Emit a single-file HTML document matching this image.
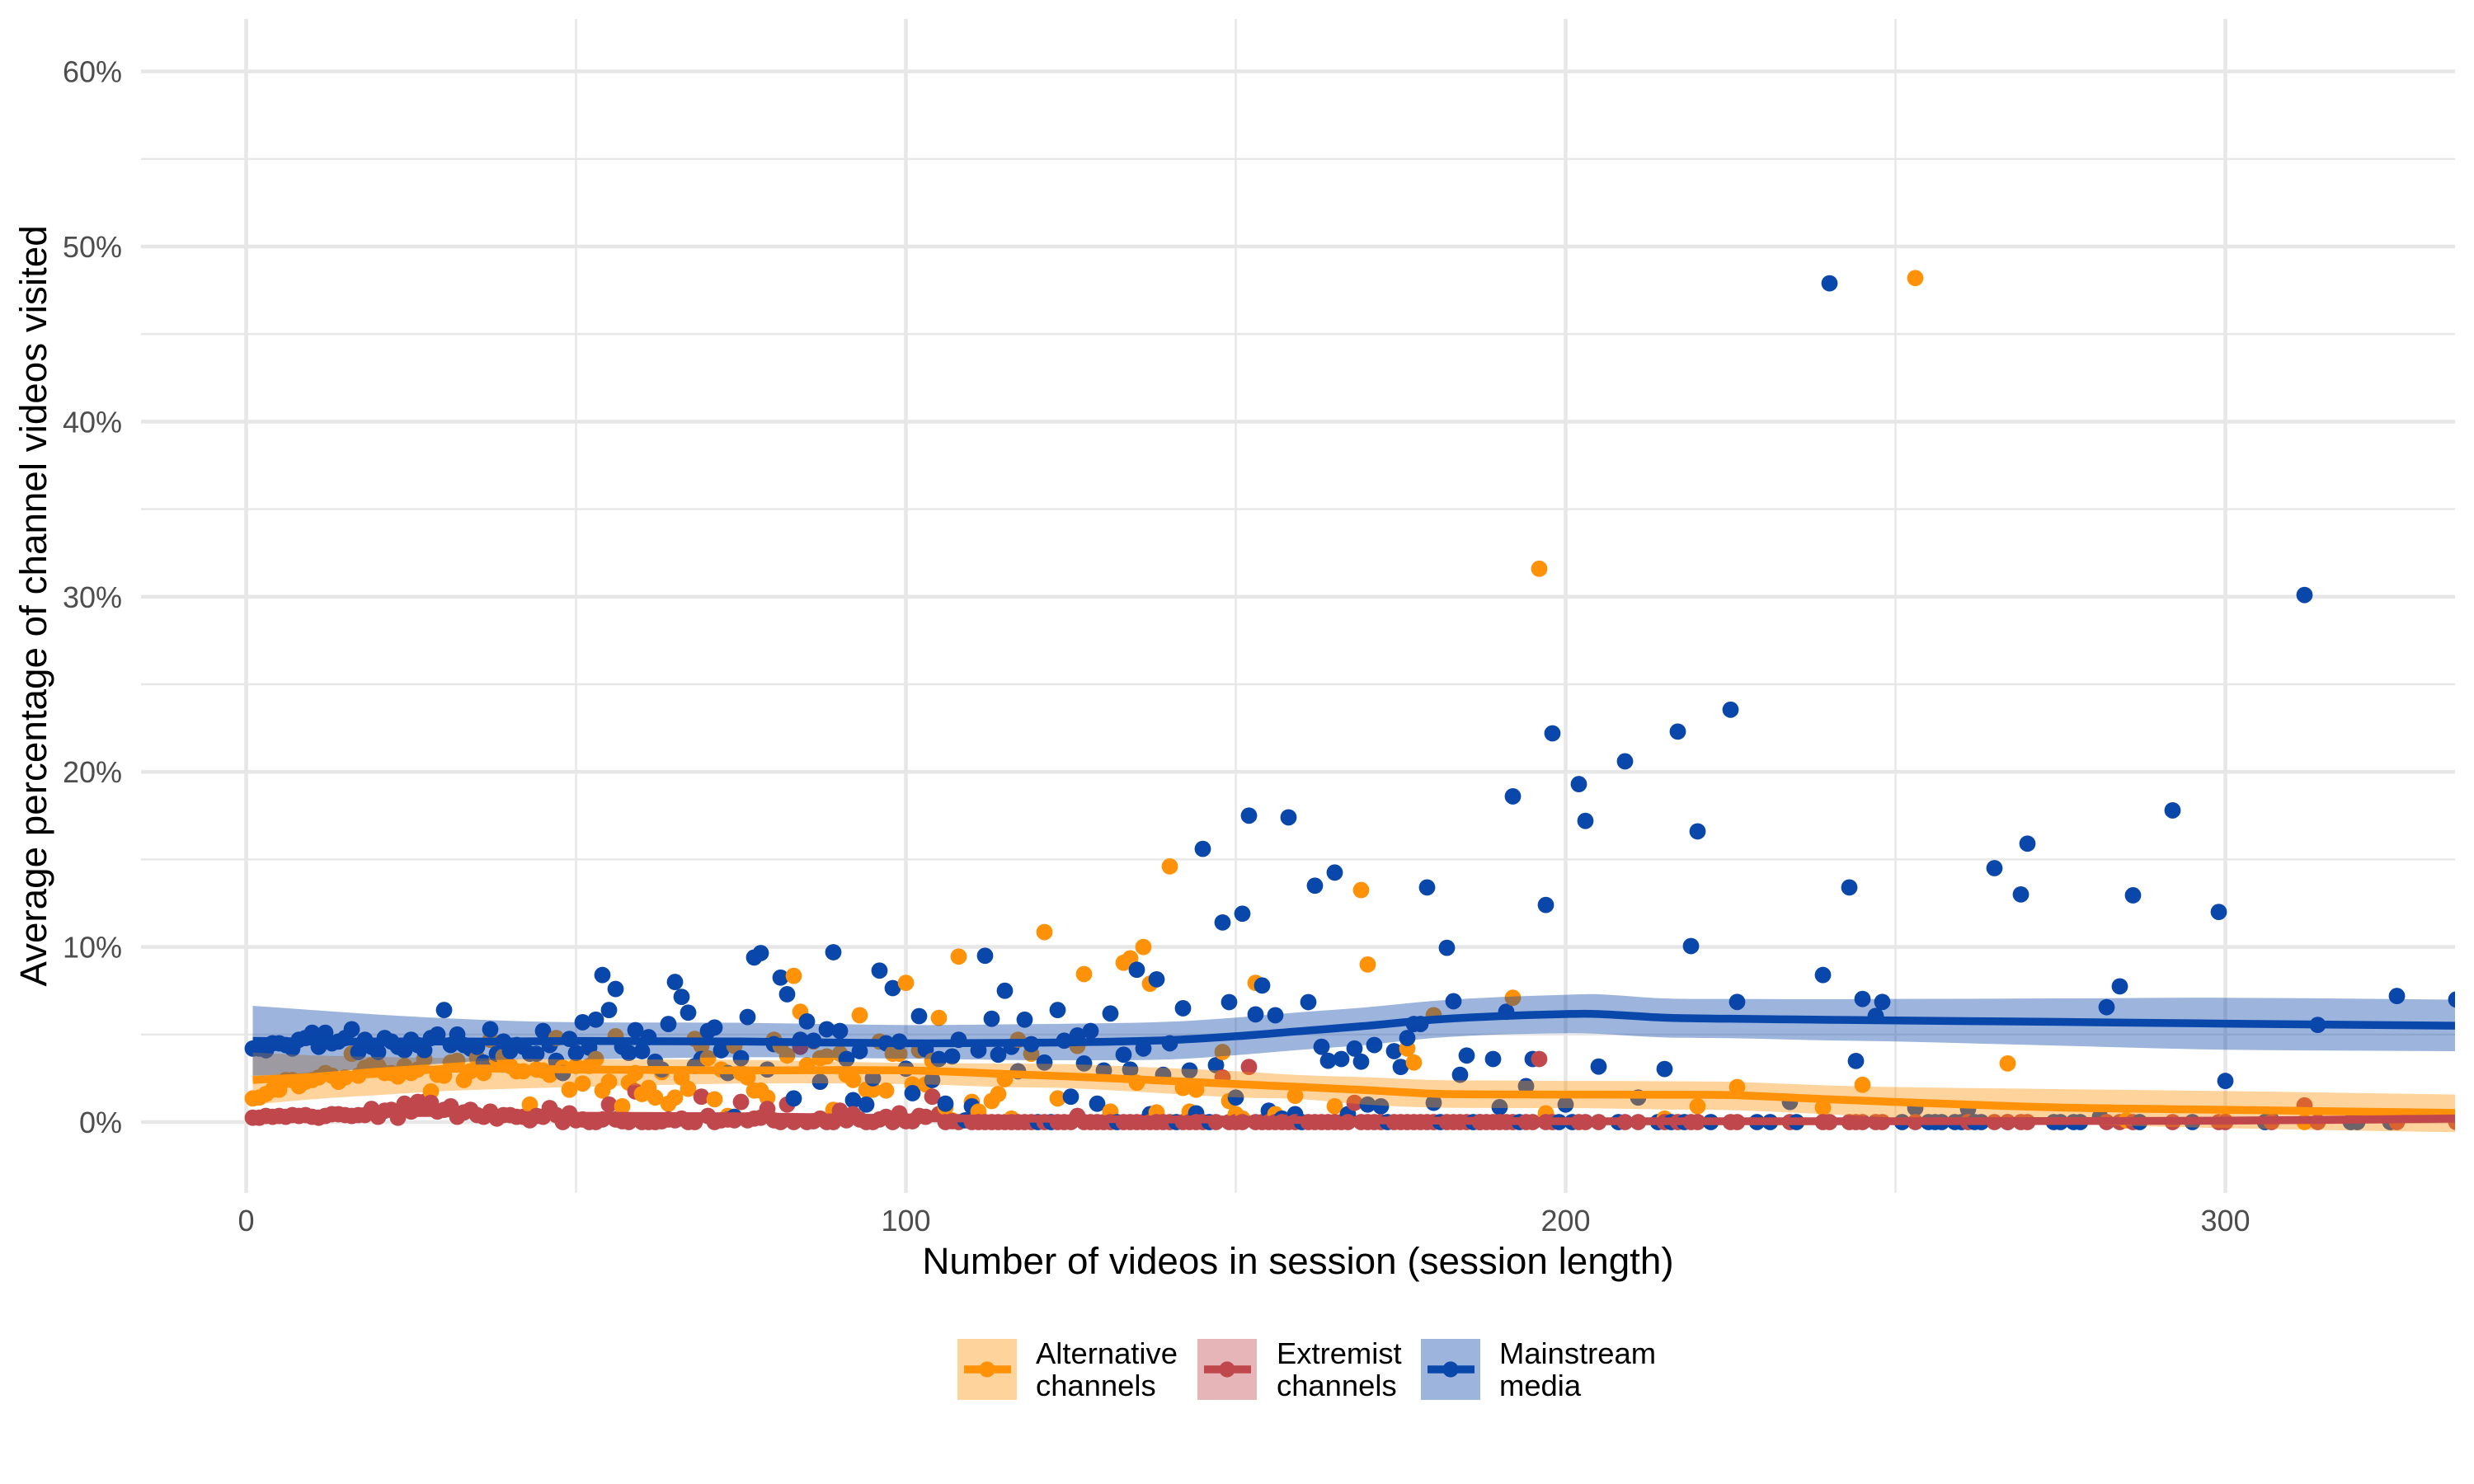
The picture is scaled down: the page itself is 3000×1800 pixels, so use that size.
<!DOCTYPE html>
<html lang="en">
<head>
<meta charset="utf-8">
<title>Average percentage of channel videos visited by session length</title>
<style>
html,body{margin:0;padding:0;background:#fff;}
svg{display:block;font-family:"Liberation Sans",Arial,sans-serif;}
</style>
</head>
<body>
<svg id="chart" xmlns="http://www.w3.org/2000/svg" width="3000" height="1800" viewBox="0 0 3000 1800">
<rect x="0" y="0" width="3000" height="1800" fill="#ffffff"/>
<defs><clipPath id="panel-clip"><rect x="171" y="23" width="2806" height="1424"/></clipPath></defs>
<g id="grid"></g>
<g id="panel" clip-path="url(#panel-clip)">
<g id="points"></g>
<g id="smooths"></g>
</g>
<g id="ticks" font-size="36" fill="#4d4d4d"></g>
<text x="1574" y="1545" font-size="45.8" text-anchor="middle" fill="#000">Number of videos in session (session length)</text>
<text transform="translate(56,735) rotate(-90)" font-size="45.8" text-anchor="middle" fill="#000">Average percentage of channel videos visited</text>
<g font-size="36.4" fill="#000">
<g>
<rect x="1161" y="1624" width="72" height="74" fill="#ff9208" fill-opacity="0.4"/>
<line x1="1169" x2="1226" y1="1661" y2="1661" stroke="#ff9208" stroke-width="9.5"/>
<circle cx="1197" cy="1661" r="9.6" fill="#ff9208"/>
<text x="1256" y="1654">Alternative</text>
<text x="1256" y="1693">channels</text>
</g>
<g>
<rect x="1452" y="1624" width="72" height="74" fill="#c0474b" fill-opacity="0.4"/>
<line x1="1460" x2="1517" y1="1661" y2="1661" stroke="#c0474b" stroke-width="9.5"/>
<circle cx="1488" cy="1661" r="9.6" fill="#c0474b"/>
<text x="1548" y="1654">Extremist</text>
<text x="1548" y="1693">channels</text>
</g>
<g>
<rect x="1723" y="1624" width="72" height="74" fill="#0a47ab" fill-opacity="0.4"/>
<line x1="1731" x2="1788" y1="1661" y2="1661" stroke="#0a47ab" stroke-width="9.5"/>
<circle cx="1759" cy="1661" r="9.6" fill="#0a47ab"/>
<text x="1818" y="1654">Mainstream</text>
<text x="1818" y="1693">media</text>
</g>
</g>
</svg>
<script>
const xMajorTicks = [0, 100, 200, 300];
const xMinorTicks = [50, 150, 250];
const yMajorTicks = [0, 10, 20, 30, 40, 50, 60];
const yMinorTicks = [5, 15, 25, 35, 45, 55];

const alternativePoints = [[1,1.35],[2,1.4],[3,1.6],[4,1.85],[5,1.85],[6,2.4],[7,2.4],[8,2.05],[9,2.3],[10,2.4],[11,2.55],[12,2.8],[13,2.65],[14,2.3],[15,2.55],[16,3.9],[17,2.65],[18,3.1],[19,3.25],[20,3.2],[21,2.8],[22,2.8],[23,2.6],[24,3.2],[25,2.8],[26,3.0],[27,3.6],[28,1.75],[29,2.7],[30,2.65],[31,3.4],[32,3.5],[33,2.4],[34,2.9],[35,3.65],[36,2.8],[37,4.7],[38,3.6],[39,3.75],[40,3.2],[41,2.9],[42,2.9],[43,1.0],[44,3.0],[45,2.95],[46,2.7],[47,4.8],[48,3.1],[49,1.85],[50,3.2],[51,2.2],[52,3.2],[53,3.6],[54,1.8],[55,2.3],[56,4.9],[57,0.9],[58,2.25],[59,2.8],[60,1.6],[61,1.95],[62,1.4],[63,2.85],[64,1.05],[65,1.4],[66,2.55],[67,1.9],[68,4.75],[69,4.35],[70,3.65],[71,1.3],[72,3.0],[73,0.35],[74,4.35],[75,2.8],[76,2.55],[77,1.8],[78,1.8],[79,1.4],[80,4.7],[81,4.35],[82,3.8],[83,8.35],[84,6.3],[85,3.25],[86,4.6],[87,3.65],[88,3.75],[89,0.7],[90,3.9],[91,2.7],[92,2.4],[93,6.1],[94,1.85],[95,1.85],[96,4.6],[97,1.8],[98,3.9],[99,3.9],[100,7.95],[101,2.15],[102,4.1],[103,2.15],[104,3.5],[105,5.95],[106,0.85],[107,0.1],[108,9.45],[110,1.15],[111,0.6],[113,1.2],[114,1.6],[115,2.45],[116,0.2],[117,4.7],[119,3.9],[121,10.85],[123,1.35],[126,4.35],[127,8.45],[131,0.6],[133,9.1],[134,9.35],[135,2.25],[136,10.0],[137,7.9],[138,0.55],[140,14.6],[142,1.95],[143,0.6],[144,1.85],[148,4.0],[149,1.2],[150,0.45],[151,0.2],[153,7.95],[156,0.45],[159,1.5],[165,0.9],[167,0.05],[169,13.25],[170,9.0],[176,4.2],[177,3.4],[180,6.1],[192,7.1],[196,31.6],[197,0.5],[215,0.2],[220,0.9],[226,2.0],[239,0.83],[245,2.13],[253,48.2],[267,3.35],[285,0.1],[300,0.05],[312,0]];

const mainstreamPoints = [[1,4.2],[2,4.2],[3,4.1],[4,4.5],[5,4.5],[6,4.4],[7,4.2],[8,4.7],[9,4.8],[10,5.1],[11,4.3],[12,5.1],[13,4.5],[14,4.6],[15,4.8],[16,5.3],[17,4.0],[18,4.7],[19,4.3],[20,4.0],[21,4.8],[22,4.6],[23,4.3],[24,4.1],[25,4.7],[26,4.4],[27,4.1],[28,4.8],[29,5.0],[30,6.4],[31,4.4],[32,5.0],[33,4.4],[34,4.2],[35,4.3],[36,3.4],[37,5.3],[38,3.9],[39,4.6],[40,4.05],[41,4.4],[42,4.3],[43,3.9],[44,3.9],[45,5.2],[46,4.4],[47,3.5],[48,2.8],[49,4.75],[50,3.95],[51,5.7],[52,4.25],[53,5.85],[54,8.4],[55,6.4],[56,7.6],[57,4.3],[58,3.95],[59,5.25],[60,4.05],[61,4.85],[62,3.45],[63,3.0],[64,5.6],[65,8.0],[66,7.15],[67,6.25],[68,3.2],[69,3.6],[70,5.2],[71,5.4],[72,4.1],[73,2.8],[74,0.3],[75,3.65],[76,6.0],[77,9.4],[78,9.65],[79,3.0],[80,4.45],[81,8.25],[82,7.3],[83,1.35],[84,4.7],[85,5.75],[86,4.65],[87,2.3],[88,5.3],[89,9.7],[90,5.2],[91,3.6],[92,1.25],[93,4.05],[94,1.0],[95,2.5],[96,8.65],[97,4.5],[98,7.65],[99,4.6],[100,3.05],[101,1.65],[102,6.05],[103,4.15],[104,2.4],[105,3.6],[106,1.05],[107,3.75],[108,4.7],[109,0.1],[110,0.9],[111,4.1],[112,9.5],[113,5.9],[114,3.85],[115,7.5],[116,4.3],[117,2.9],[118,5.85],[119,4.45],[120,0],[121,3.4],[122,0],[123,6.4],[124,4.65],[125,1.45],[126,4.95],[127,3.35],[128,5.2],[129,1.05],[130,2.95],[131,6.2],[132,0],[133,3.85],[134,3.0],[135,8.7],[136,4.2],[137,0.45],[138,8.15],[139,2.7],[140,4.5],[141,0],[142,6.5],[143,2.95],[144,0.5],[145,15.6],[146,0],[147,3.25],[148,11.4],[149,6.85],[150,1.4],[151,11.9],[152,17.5],[153,6.15],[154,7.8],[155,0.65],[156,6.1],[157,0.2],[158,17.4],[159,0.45],[160,0],[161,6.85],[162,13.5],[163,4.3],[164,3.5],[165,14.25],[166,3.6],[167,0.45],[168,4.2],[169,3.45],[170,1.0],[171,4.4],[172,0.9],[173,0],[174,4.05],[175,3.15],[176,4.8],[177,5.6],[178,5.6],[179,13.4],[180,1.1],[181,0],[182,9.95],[183,6.9],[184,2.7],[185,3.8],[186,0],[187,0],[189,3.6],[190,0.85],[191,6.3],[192,18.6],[193,0],[194,2.05],[195,3.6],[197,12.4],[198,22.2],[199,0],[200,1.0],[201,0],[202,19.3],[203,17.2],[205,3.17],[208,0],[209,20.6],[211,1.4],[214,0],[215,3.03],[216,0],[217,22.3],[218,0],[219,10.05],[220,16.6],[222,0],[225,23.55],[226,6.86],[229,0],[231,0],[234,1.15],[235,0],[239,8.4],[240,47.9],[243,13.4],[244,3.49],[245,7.03],[247,6.06],[248,6.86],[251,0],[253,0.8],[255,0],[256,0],[257,0],[259,0],[260,0],[261,0.75],[262,0],[263,0],[265,14.5],[267,0],[269,13.0],[270,15.9],[274,0],[275,0],[277,0],[278,0],[281,0.3],[282,6.56],[284,7.75],[286,12.95],[287,0],[292,17.8],[295,0],[299,12.0],[300,2.35],[306,0],[307,0.1],[312,30.1],[314,5.55],[319,0],[320,0],[325,0],[326,7.2],[335,7.0]];

const extremistPoints = [[1,0.25],[2,0.25],[3,0.35],[4,0.3],[5,0.35],[6,0.3],[7,0.4],[8,0.35],[9,0.4],[10,0.3],[11,0.25],[12,0.35],[13,0.45],[14,0.45],[15,0.4],[16,0.35],[17,0.4],[18,0.4],[19,0.75],[20,0.3],[21,0.65],[22,0.7],[23,0.25],[24,1.05],[25,0.6],[26,1.15],[27,1.15],[28,1.1],[29,0.6],[30,0.7],[31,0.9],[32,0.3],[33,0.55],[34,0.7],[35,0.4],[36,0.3],[37,0.6],[38,0.2],[39,0.4],[40,0.4],[41,0.3],[42,0.3],[43,0.1],[44,0.35],[45,0.3],[46,0.8],[47,0.4],[48,0],[49,0.5],[50,0.1],[51,0.15],[52,0],[53,0],[54,0.15],[55,1.0],[56,0.15],[57,0.05],[58,0],[59,1.75],[60,0],[61,0],[62,0],[63,0.05],[64,0.15],[65,0.1],[66,0.2],[67,0],[68,0],[69,1.45],[70,0.35],[71,0],[72,0.1],[73,0.15],[74,0.1],[75,1.15],[76,0.1],[77,0.2],[78,0.25],[79,0.75],[80,0.1],[81,0],[82,1.0],[83,0],[84,4.3],[85,0],[86,0.05],[87,0.2],[88,0],[89,0],[90,0.65],[91,0.1],[92,0.45],[93,0.15],[94,0],[95,0],[96,0.15],[97,0.3],[98,0],[99,0.5],[100,0.05],[101,0.05],[102,0.35],[103,0.3],[104,1.45],[105,0.45],[106,0],[107,0.05],[108,0],[110,0],[111,0],[112,0],[113,0],[114,0],[115,0],[116,0],[117,0],[118,0],[119,0],[121,0],[123,0],[124,0],[125,0],[126,0.35],[127,0],[128,0],[129,0],[130,0],[131,0],[133,0],[134,0],[135,0],[136,0],[137,0],[138,0],[139,0],[140,0],[142,0],[143,0],[144,0],[145,0],[147,0],[148,2.55],[149,0],[150,0],[151,0],[152,3.15],[153,0],[154,0],[155,0],[156,0],[157,0],[158,0],[159,0],[161,0],[162,0],[163,0],[164,0],[165,0],[166,0],[167,0],[168,1.1],[169,0],[170,0],[171,0],[172,0],[174,0],[175,0],[176,0],[177,0],[178,0],[179,0],[180,0],[182,0],[183,0],[184,0],[185,0],[187,0],[188,0],[189,0],[190,0],[191,0],[192,0],[194,0],[195,0],[196,3.6],[197,0],[198,0],[202,0],[203,0],[205,0],[209,0],[211,0],[215,0],[217,0],[219,0],[220,0],[225,0],[226,0],[234,0],[239,0],[240,0],[243,0],[244,0],[245,0],[247,0],[248,0],[253,0],[261,0],[265,0],[267,0],[269,0],[270,0],[282,0],[284,0],[286,0],[292,0],[299,0],[300,0],[307,0],[312,0.95],[314,0],[326,0],[335,0]];

const smoothSessions = [1,10,20,30,40,50,75,100,115,125,140,150,160,170,180,190,200,205,215,225,240,250,275,300,335];
const alternativeFit = [2.4,2.6,2.76,3.03,3.05,3.0,2.95,2.95,2.75,2.6,2.35,2.17,2.0,1.82,1.62,1.58,1.57,1.57,1.56,1.54,1.3,1.15,0.83,0.7,0.52];
const alternativeHigh = [3.97,3.81,3.72,3.66,3.62,3.58,3.55,3.38,3.34,3.3,3.08,2.9,2.68,2.56,2.4,2.37,2.35,2.35,2.33,2.3,2.09,2.0,1.88,1.77,1.57];
const alternativeLow = [1.0,1.3,1.54,1.77,1.9,2.0,2.2,2.17,2.0,1.93,1.62,1.41,1.3,0.99,0.83,0.8,0.8,0.78,0.72,0.68,0.44,0.25,-0.1,-0.35,-0.58];
const extremistFit = [0.3,0.38,0.48,0.52,0.42,0.36,0.33,0.22,0.2,0.18,0.15,0.14,0.12,0.1,0.08,0.06,0.05,0.05,0.05,0.05,0.05,0.05,0.06,0.08,0.2];
const extremistHigh = [0.5,0.55,0.62,0.65,0.54,0.47,0.42,0.3,0.28,0.26,0.23,0.22,0.2,0.19,0.18,0.17,0.17,0.17,0.17,0.18,0.2,0.22,0.26,0.3,0.45];
const extremistLow = [0.1,0.21,0.34,0.39,0.3,0.25,0.24,0.14,0.12,0.1,0.07,0.06,0.04,0.01,-0.02,-0.05,-0.07,-0.07,-0.07,-0.08,-0.1,-0.12,-0.14,-0.14,-0.05];
const mainstreamFit = [4.64,4.6,4.6,4.6,4.6,4.63,4.6,4.5,4.52,4.55,4.68,4.9,5.2,5.5,5.85,6.05,6.17,6.17,5.96,5.9,5.84,5.8,5.72,5.62,5.5];
const mainstreamHigh = [6.64,6.4,6.14,5.93,5.78,5.7,5.67,5.54,5.58,5.62,5.73,5.97,6.28,6.56,6.92,7.14,7.27,7.3,7.06,7.03,7.02,7.03,7.06,7.1,6.99];
const mainstreamLow = [2.64,2.8,3.1,3.35,3.58,3.58,3.7,3.62,3.55,3.53,3.58,3.82,4.13,4.41,4.8,5.0,5.07,5.04,4.83,4.79,4.66,4.6,4.36,4.13,4.05];

const ORANGE = '#ff9208';
const RED = '#c0474b';
const BLUE = '#0a47ab';
const NS = 'http://www.w3.org/2000/svg';

function xScale(session) { return 298.5 + 8 * session; }
function yScale(percent) { return 1361 - 21.24 * percent; }

const gridLayer = document.getElementById('grid');
const tickLayer = document.getElementById('ticks');
const pointLayer = document.getElementById('points');
const smoothLayer = document.getElementById('smooths');

function addGridLine(x1, y1, x2, y2, width) {
  const el = document.createElementNS(NS, 'line');
  el.setAttribute('x1', x1);
  el.setAttribute('y1', y1);
  el.setAttribute('x2', x2);
  el.setAttribute('y2', y2);
  el.setAttribute('stroke', '#e7e7e7');
  el.setAttribute('stroke-width', width);
  
  
  gridLayer.appendChild(el);
}
yMinorTicks.forEach(v => addGridLine(171, yScale(v), 2977, yScale(v), 2.4));
xMinorTicks.forEach(v => addGridLine(xScale(v), 23, xScale(v), 1447, 2.4));
yMajorTicks.forEach(v => addGridLine(171, yScale(v), 2977, yScale(v), 4.6));
xMajorTicks.forEach(v => addGridLine(xScale(v), 23, xScale(v), 1447, 4.6));

yMajorTicks.forEach(v => {
  const el = document.createElementNS(NS, 'text');
  el.setAttribute('x', 148);
  el.setAttribute('y', yScale(v) + 13);
  el.setAttribute('text-anchor', 'end');
  
  
  el.textContent = v + '%';
  tickLayer.appendChild(el);
});
xMajorTicks.forEach(v => {
  const el = document.createElementNS(NS, 'text');
  el.setAttribute('x', xScale(v));
  el.setAttribute('y', 1493);
  el.setAttribute('text-anchor', 'middle');
  
  
  el.textContent = v;
  tickLayer.appendChild(el);
});

const allPoints = [];
alternativePoints.forEach(p => allPoints.push({ s: p[0], v: p[1], c: ORANGE, n: 'point-alternative' }));
mainstreamPoints.forEach(p => allPoints.push({ s: p[0], v: p[1], c: BLUE, n: 'point-mainstream' }));
extremistPoints.forEach(p => allPoints.push({ s: p[0], v: p[1], c: RED, n: 'point-extremist' }));
allPoints.map((p, i) => ({ p, i })).sort((a, b) => (a.p.s - b.p.s) || (a.i - b.i)).forEach(({ p }) => {
  const el = document.createElementNS(NS, 'circle');
  el.setAttribute('cx', xScale(p.s));
  el.setAttribute('cy', yScale(p.v));
  el.setAttribute('r', 9.9);
  el.setAttribute('fill', p.c);
  
  
  pointLayer.appendChild(el);
});

function curveSegments(values) {
  const xs = smoothSessions.map(xScale);
  const ys = values.map(yScale);
  const n = xs.length;
  const slope = i => {
    const a = Math.max(i - 1, 0);
    const b = Math.min(i + 1, n - 1);
    return (ys[b] - ys[a]) / (xs[b] - xs[a]);
  };
  let d = '';
  for (let i = 0; i < n - 1; i++) {
    const h = (xs[i + 1] - xs[i]) / 3;
    d += ' C' + (xs[i] + h) + ',' + (ys[i] + slope(i) * h) + ' ' + (xs[i + 1] - h) + ',' + (ys[i + 1] - slope(i + 1) * h) + ' ' + xs[i + 1] + ',' + ys[i + 1];
  }
  return { start: xs[0] + ',' + ys[0], end: xs[n - 1] + ',' + ys[n - 1], d };
}
function reverseCurve(values) {
  const xs = smoothSessions.map(xScale);
  const ys = values.map(yScale);
  const n = xs.length;
  const slope = i => {
    const a = Math.max(i - 1, 0);
    const b = Math.min(i + 1, n - 1);
    return (ys[b] - ys[a]) / (xs[b] - xs[a]);
  };
  let d = '';
  for (let i = n - 1; i > 0; i--) {
    const h = (xs[i] - xs[i - 1]) / 3;
    d += ' C' + (xs[i] - h) + ',' + (ys[i] - slope(i) * h) + ' ' + (xs[i - 1] + h) + ',' + (ys[i - 1] + slope(i - 1) * h) + ' ' + xs[i - 1] + ',' + ys[i - 1];
  }
  return { start: xs[n - 1] + ',' + ys[n - 1], d };
}
function addSmooth(fit, low, high, color, label) {
  const band = document.createElementNS(NS, 'path');
  const top = curveSegments(high);
  const bottom = reverseCurve(low);
  band.setAttribute('d', 'M' + top.start + top.d + ' L' + bottom.start + bottom.d + ' Z');
  band.setAttribute('fill', color);
  band.setAttribute('fill-opacity', '0.4');
  
  
  smoothLayer.appendChild(band);
  const line = document.createElementNS(NS, 'path');
  const mid = curveSegments(fit);
  line.setAttribute('d', 'M' + mid.start + mid.d);
  line.setAttribute('fill', 'none');
  line.setAttribute('stroke', color);
  line.setAttribute('stroke-width', 9.5);
  
  
  smoothLayer.appendChild(line);
}
addSmooth(alternativeFit, alternativeLow, alternativeHigh, ORANGE, 'alternative');
addSmooth(extremistFit, extremistLow, extremistHigh, RED, 'extremist');
addSmooth(mainstreamFit, mainstreamLow, mainstreamHigh, BLUE, 'mainstream');
</script>
</body>
</html>
